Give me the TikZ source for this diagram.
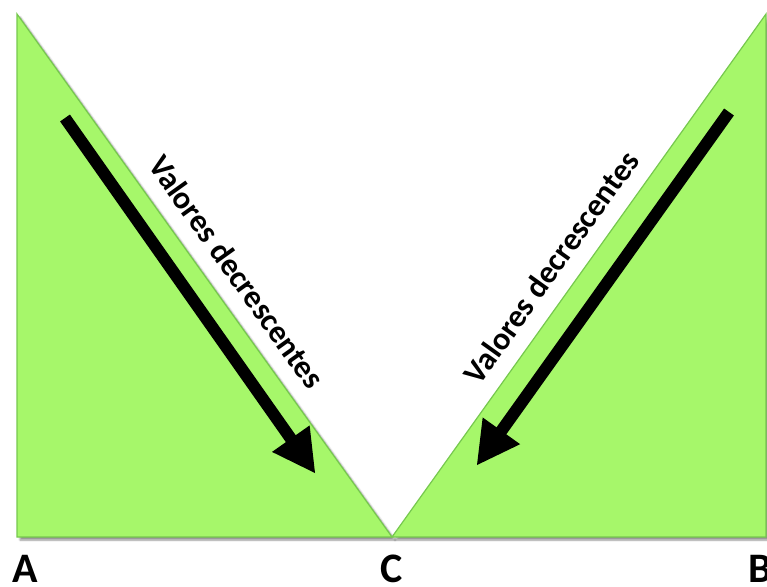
\documentclass[tikz,border=0pt]{standalone}
\usepackage{fontspec}
\setmainfont{Carlito}
\usetikzlibrary{calc,shadows.blur}
\definecolor{trifill}{RGB}{166,247,106}
\definecolor{triedge}{RGB}{118,200,78}
\begin{document}
\begin{tikzpicture}[x=1pt,y=-1pt,
 tri/.style={fill=trifill,draw=triedge,line width=1.2pt,line join=miter,
   blur shadow={shadow xshift=3pt,shadow yshift=-3pt,shadow blur steps=6,shadow opacity=45}},
 shaft/.style={draw=black,line width=12pt},
 head/.style={fill=black,draw=none},
 lbl/.style={font=\bfseries\fontsize{42}{42}\selectfont,inner sep=0pt,anchor=base},
 slopetext/.style={font=\bfseries\fontsize{32}{32}\selectfont}]
\useasboundingbox (0,0) rectangle (767,586);
\coordinate (tl) at (17,14);
\coordinate (bl) at (17,537);
\coordinate (c) at (392,537);
\coordinate (br) at (766,537);
\coordinate (tr) at (766,14);
\path[tri] (tl) -- (c) -- (bl) -- cycle;
\path[tri] (tr) -- (br) -- (c) -- cycle;
% arrow 1
\coordinate (a1s) at (65,118);
\coordinate (a1e) at (315,473);
\coordinate (a1b) at ($(a1e)!42pt!(a1s)$);
\coordinate (a1m) at ($(a1e)!38pt!(a1s)$);
\draw[shaft] (a1s) -- (a1m);
\fill[head] (a1e) -- ($(a1b)!23pt!90:(a1e)$) -- ($(a1b)!23pt!-90:(a1e)$) -- cycle;
% arrow 2
\coordinate (a2s) at (729,112);
\coordinate (a2e) at (477,465);
\coordinate (a2b) at ($(a2e)!42pt!(a2s)$);
\coordinate (a2m) at ($(a2e)!38pt!(a2s)$);
\draw[shaft] (a2s) -- (a2m);
\fill[head] (a2e) -- ($(a2b)!23pt!90:(a2e)$) -- ($(a2b)!23pt!-90:(a2e)$) -- cycle;
% texts
\node[slopetext,rotate=-54.4] (t1) at (237,272) {Valores decrescentes};
\node[slopetext,rotate=54.4] (t2) at (551,267) {Valores decrescentes};
\node[lbl] (A) at (25,582) {A};
\node[lbl] (C) at (392,582) {C};
\node[lbl] (B) at (760,582) {B};
\end{tikzpicture}
\end{document}
